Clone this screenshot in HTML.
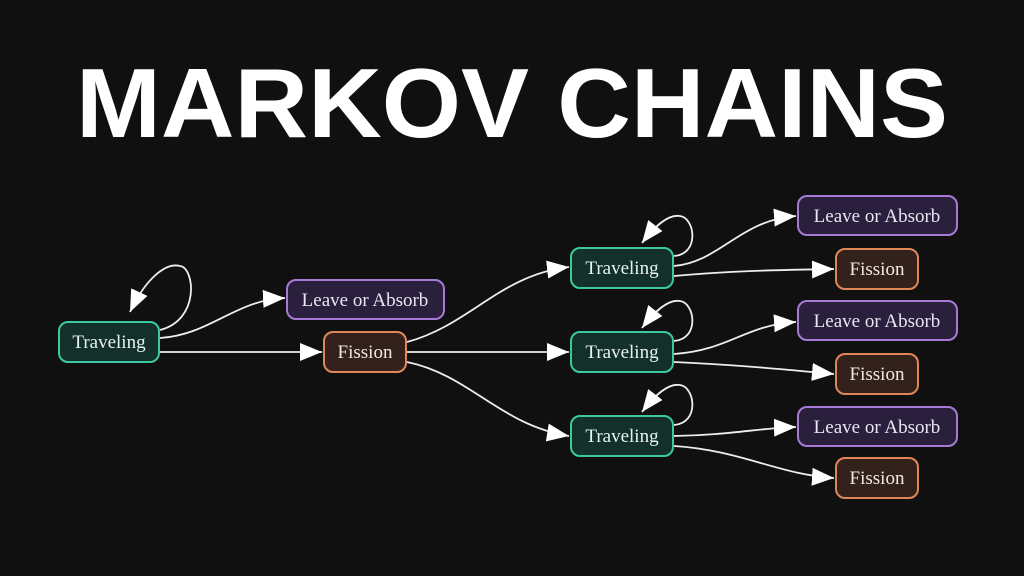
<!DOCTYPE html>
<html><head><meta charset="utf-8"><style>
html,body{margin:0;padding:0;background:#111;}
svg{display:block}
</style></head><body>
<svg width="1024" height="576" viewBox="0 0 1024 576" xmlns="http://www.w3.org/2000/svg">
<defs>
<marker id="ah" viewBox="0 0 10 10" refX="10" refY="5" markerWidth="22" markerHeight="18" markerUnits="userSpaceOnUse" orient="auto" preserveAspectRatio="none">
<path d="M0,0 L10,5 L0,10 z" fill="#fff"/>
</marker>
</defs>
<rect width="1024" height="576" fill="#101010"/>
<text x="76" y="137" font-family="Liberation Sans, sans-serif" font-weight="bold" font-size="98" fill="#fff" textLength="872" lengthAdjust="spacingAndGlyphs">MARKOV CHAINS</text>

<g fill="none" stroke="#eee" stroke-width="1.8" marker-end="url(#ah)">
<path d="M160,330 C200,320 195,268 180,266 C165,262 145,280 130,312"/>
<path d="M160,338 C210,335 235,300 285,298"/>
<path d="M160,352 L322,352"/>
<path d="M407,342 C470,325 500,275 569,267"/>
<path d="M407,352 L569,352"/>
<path d="M407,362 C470,375 500,425 569,436"/>
<path d="M674,256 C700,254 695,218 680,216 C668,214 655,226 642,243"/>
<path d="M674,266 C720,262 740,220 796,216"/>
<path d="M674,276 C740,270 790,270 834,269"/>
<path d="M674,341 C700,339 695,303 680,301 C668,299 655,311 642,328"/>
<path d="M674,354 C730,350 745,325 796,322"/>
<path d="M674,362 C740,365 790,370 834,374"/>
<path d="M674,425 C700,423 695,387 680,385 C668,383 655,395 642,412"/>
<path d="M674,436 C730,435 760,428 796,427"/>
<path d="M674,446 C740,450 780,475 834,478"/>
</g>

<g font-family="Liberation Serif, serif" font-size="19" text-anchor="middle">
<rect x="59" y="322" width="100" height="40" rx="9" fill="#14302a" stroke="#3cc9a0" stroke-width="2"/>
<text x="109" y="348" fill="#e6f3ee">Traveling</text>
<rect x="571" y="248" width="102" height="40" rx="9" fill="#14302a" stroke="#3cc9a0" stroke-width="2"/>
<text x="622" y="274" fill="#e6f3ee">Traveling</text>
<rect x="571" y="332" width="102" height="40" rx="9" fill="#14302a" stroke="#3cc9a0" stroke-width="2"/>
<text x="622" y="358" fill="#e6f3ee">Traveling</text>
<rect x="571" y="416" width="102" height="40" rx="9" fill="#14302a" stroke="#3cc9a0" stroke-width="2"/>
<text x="622" y="442" fill="#e6f3ee">Traveling</text>

<rect x="287" y="280" width="157" height="39" rx="9" fill="#2a1f3c" stroke="#a77ad6" stroke-width="2"/>
<text x="365" y="306" fill="#ece6f3">Leave or Absorb</text>
<rect x="798" y="196" width="159" height="39" rx="9" fill="#2a1f3c" stroke="#a77ad6" stroke-width="2"/>
<text x="877" y="222" fill="#ece6f3">Leave or Absorb</text>
<rect x="798" y="301" width="159" height="39" rx="9" fill="#2a1f3c" stroke="#a77ad6" stroke-width="2"/>
<text x="877" y="327" fill="#ece6f3">Leave or Absorb</text>
<rect x="798" y="407" width="159" height="39" rx="9" fill="#2a1f3c" stroke="#a77ad6" stroke-width="2"/>
<text x="877" y="433" fill="#ece6f3">Leave or Absorb</text>

<rect x="324" y="332" width="82" height="40" rx="9" fill="#33221c" stroke="#e0875a" stroke-width="2"/>
<text x="365" y="358" fill="#f3e9e3">Fission</text>
<rect x="836" y="249" width="82" height="40" rx="9" fill="#33221c" stroke="#e0875a" stroke-width="2"/>
<text x="877" y="275" fill="#f3e9e3">Fission</text>
<rect x="836" y="354" width="82" height="40" rx="9" fill="#33221c" stroke="#e0875a" stroke-width="2"/>
<text x="877" y="380" fill="#f3e9e3">Fission</text>
<rect x="836" y="458" width="82" height="40" rx="9" fill="#33221c" stroke="#e0875a" stroke-width="2"/>
<text x="877" y="484" fill="#f3e9e3">Fission</text>
</g>
</svg>
</body></html>
